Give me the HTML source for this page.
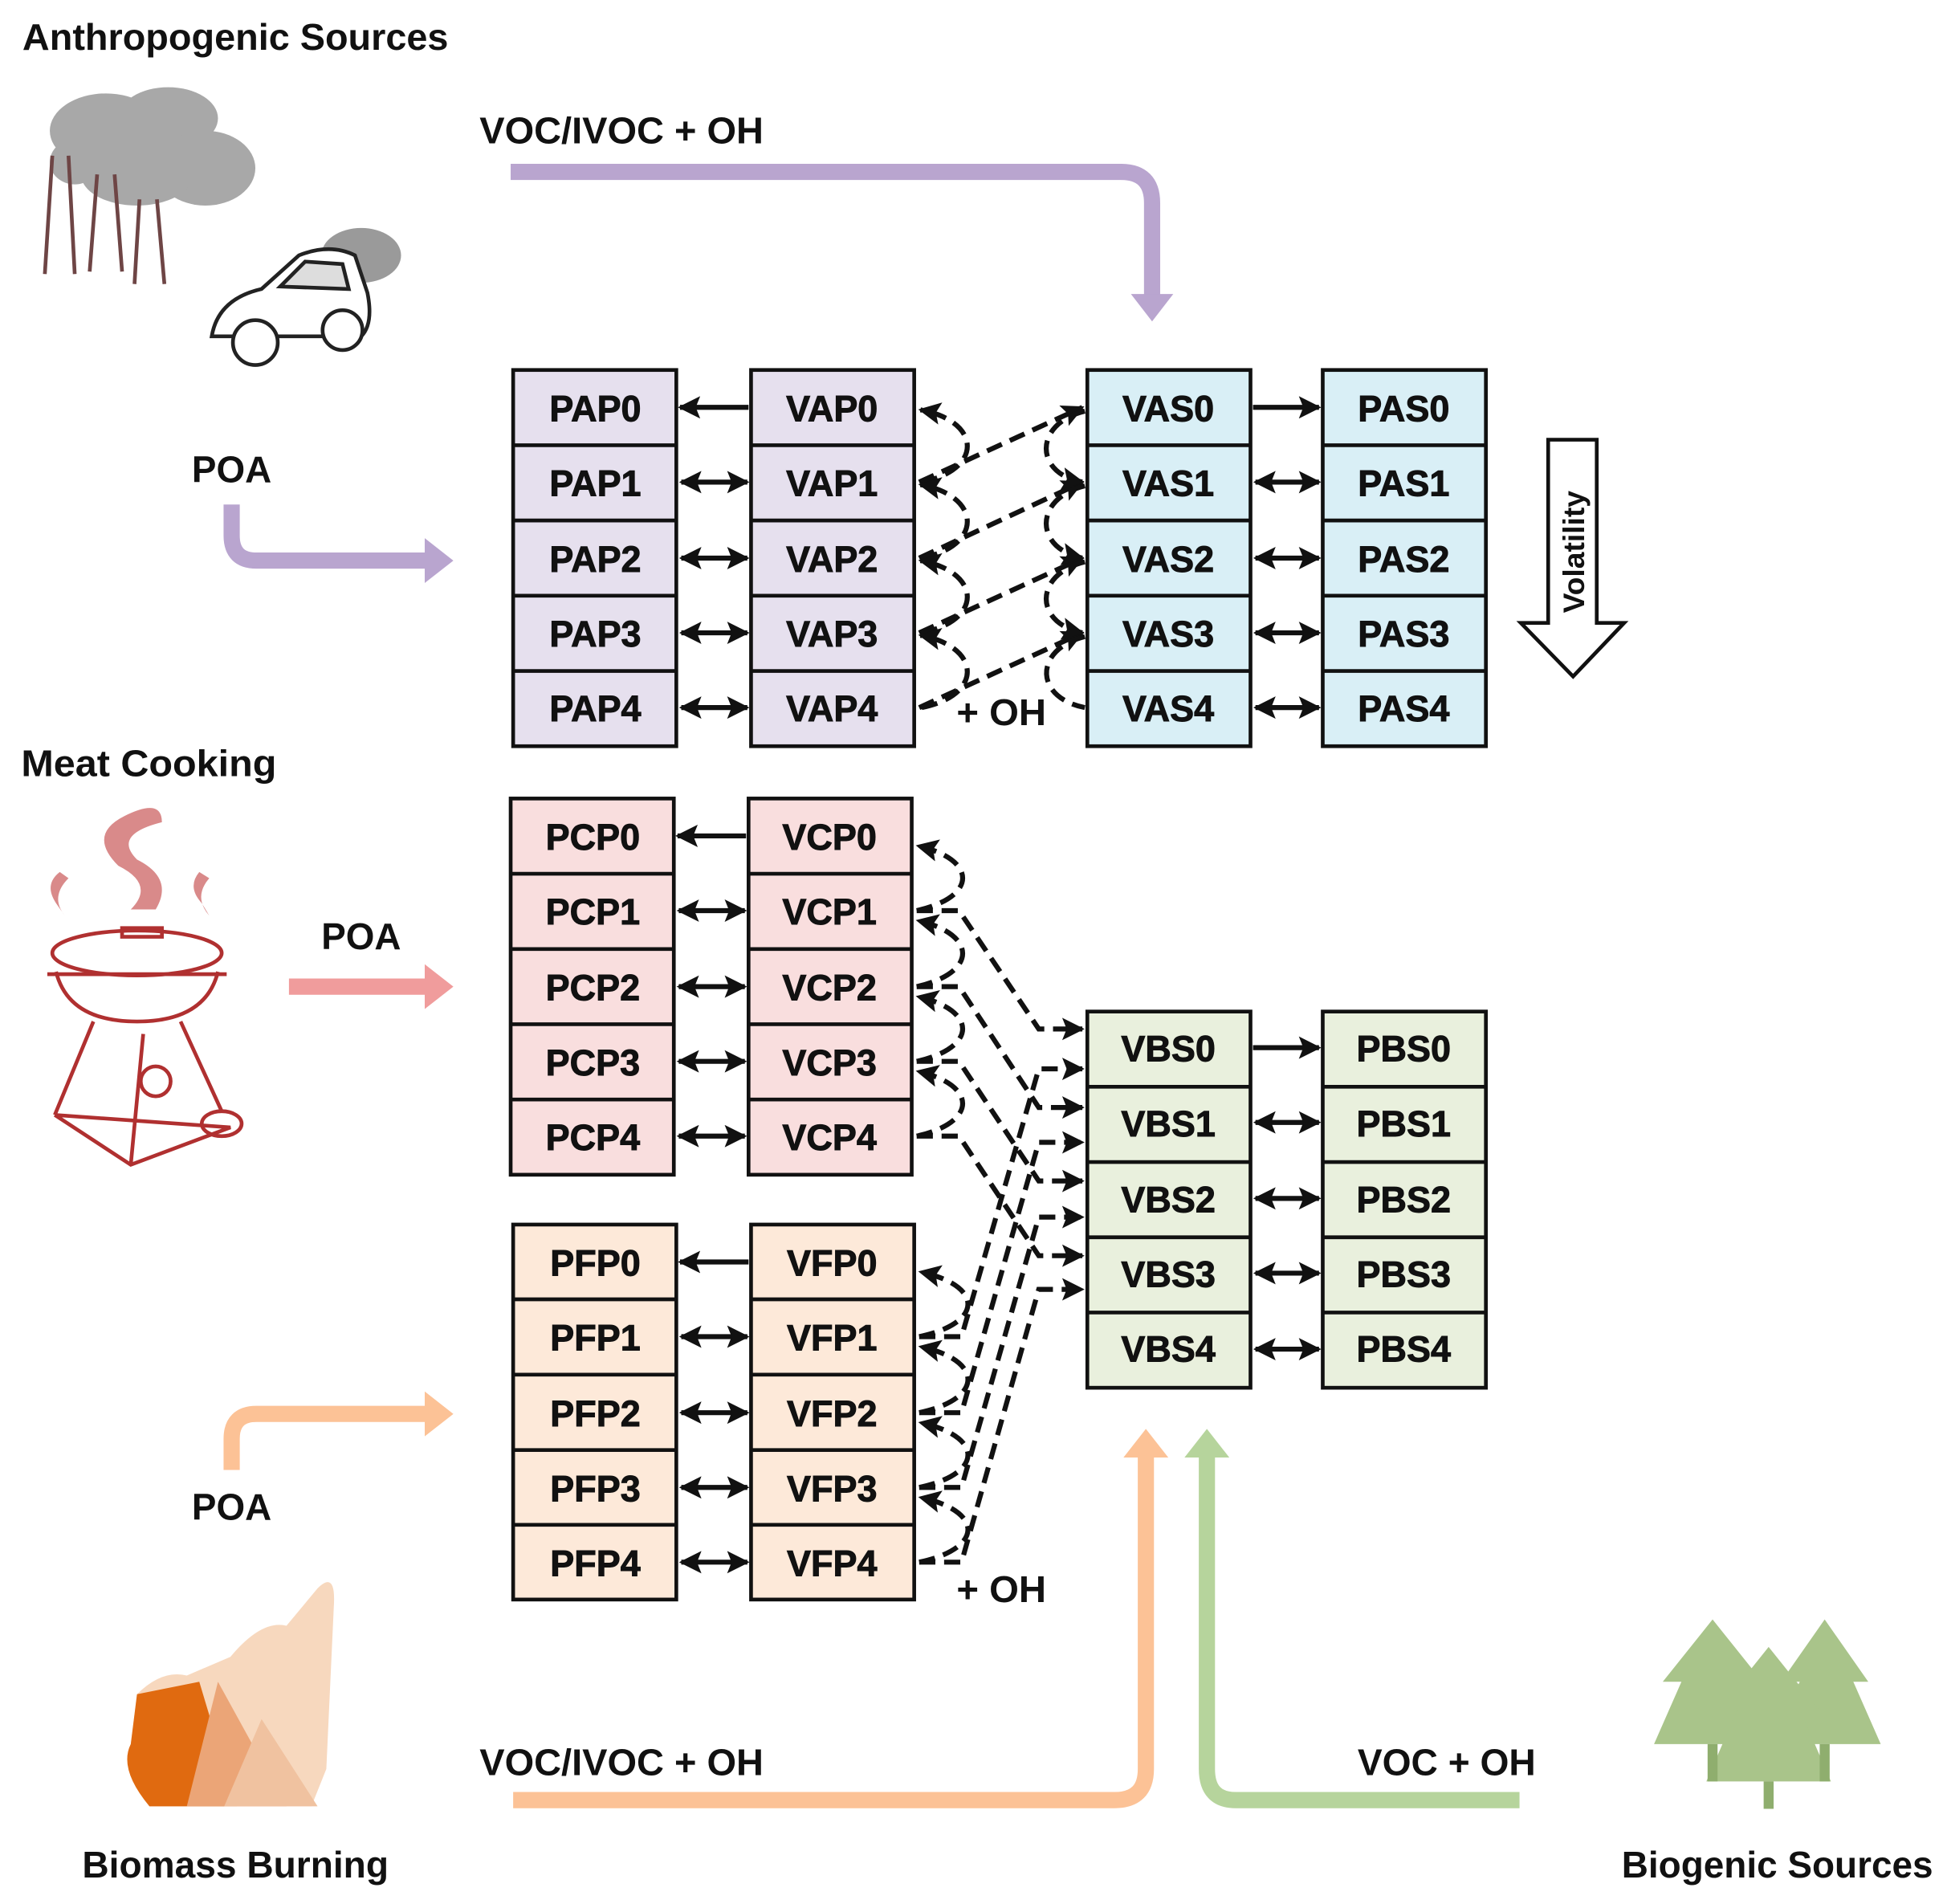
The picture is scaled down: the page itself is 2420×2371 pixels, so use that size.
<!DOCTYPE html>
<html><head><meta charset="utf-8"><style>
html,body{margin:0;padding:0;background:#fff;}
svg{display:block;}
text{font-family:"Liberation Sans",Arial,sans-serif;font-weight:bold;fill:#111;}
.bl{font-size:29px;text-anchor:middle;stroke:#111;stroke-width:0.6;}
.lab{font-size:30px;}
.bx{stroke:#111;stroke-width:3;}
.s{stroke:#111;stroke-width:4;fill:none;}
.d{stroke:#111;stroke-width:4;fill:none;stroke-dasharray:13 7;}
</style></head><body>
<svg width="2420" height="2371" viewBox="0 0 1560 1528.4" preserveAspectRatio="none" xmlns="http://www.w3.org/2000/svg">
<defs>
<marker id="a" viewBox="0 0 10 10" refX="9" refY="5" markerWidth="4.5" markerHeight="4.5" orient="auto-start-reverse" markerUnits="strokeWidth"><path d="M0,0 L10,5 L0,10 L2,5 z" fill="#111"/></marker>
</defs>

<text class="lab" x="18" y="40" textLength="342" lengthAdjust="spacingAndGlyphs">Anthropogenic Sources</text>
<text class="lab" x="385" y="115" textLength="228" lengthAdjust="spacingAndGlyphs">VOC/IVOC + OH</text>
<text class="lab" x="154" y="387" textLength="64" lengthAdjust="spacingAndGlyphs">POA</text>
<text class="lab" x="17" y="623" textLength="205" lengthAdjust="spacingAndGlyphs">Meat Cooking</text>
<text class="lab" x="258" y="762" textLength="64" lengthAdjust="spacingAndGlyphs">POA</text>
<text class="lab" x="154" y="1220" textLength="64" lengthAdjust="spacingAndGlyphs">POA</text>
<text class="lab" x="385" y="1425" textLength="228" lengthAdjust="spacingAndGlyphs">VOC/IVOC + OH</text>
<text class="lab" x="1090" y="1425" textLength="143" lengthAdjust="spacingAndGlyphs">VOC + OH</text>
<text class="lab" x="66" y="1507" textLength="246" lengthAdjust="spacingAndGlyphs">Biomass Burning</text>
<text class="lab" x="1302" y="1507" textLength="250" lengthAdjust="spacingAndGlyphs">Biogenic Sources</text>
<text class="lab" x="768" y="582" textLength="72" lengthAdjust="spacingAndGlyphs">+ OH</text>
<text class="lab" x="768" y="1286" textLength="72" lengthAdjust="spacingAndGlyphs">+ OH</text>

<g fill="none" stroke-width="13">
<path d="M410,138 H900 Q925,138 925,163 V240" stroke="#b9a5cf"/>
<path d="M186,405 V430 Q186,450 206,450 H345" stroke="#b9a5cf"/>
<path d="M232,792 H345" stroke="#f09c9c"/>
<path d="M186,1180 V1155 Q186,1135 206,1135 H345" stroke="#fcc296"/>
<path d="M412,1445 H895 Q920,1445 920,1420 V1168" stroke="#fcc296"/>
<path d="M1220,1445 H992 Q969,1445 969,1420 V1168" stroke="#b6d49c"/>
</g>
<polygon points="908,236 942,236 925,258" fill="#b9a5cf"/>
<polygon points="341,432 341,468 364,450" fill="#b9a5cf"/>
<polygon points="341,774 341,810 364,792" fill="#f09c9c"/>
<polygon points="341,1117 341,1153 364,1135" fill="#fcc296"/>
<polygon points="902,1170 938,1170 920,1147" fill="#fcc296"/>
<polygon points="951,1170 987,1170 969,1147" fill="#b6d49c"/>

<path d="M1243,353 H1282 V500 H1304 L1263,543 L1221,500 H1243 Z" fill="#fff" stroke="#111" stroke-width="3"/>
<text x="0" y="0" font-size="24" text-anchor="middle" transform="translate(1272,443) rotate(-90)">Volatility</text>

<g class="bx" fill="#e6e0ee">
<rect x="412" y="297" width="131" height="302"/><rect x="603" y="297" width="131" height="302"/>
</g>
<g class="bx" fill="#d9eff6">
<rect x="873" y="297" width="131" height="302"/><rect x="1062" y="297" width="131" height="302"/>
</g>
<g class="bx" fill="none">
<path d="M412,357.4H543M412,417.8H543M412,478.2H543M412,538.6H543"/>
<path d="M603,357.4H734M603,417.8H734M603,478.2H734M603,538.6H734"/>
<path d="M873,357.4H1004M873,417.8H1004M873,478.2H1004M873,538.6H1004"/>
<path d="M1062,357.4H1193M1062,417.8H1193M1062,478.2H1193M1062,538.6H1193"/>
</g>
<g class="bl">
<text x="478" y="338">PAP0</text><text x="478" y="398">PAP1</text><text x="478" y="459">PAP2</text><text x="478" y="519">PAP3</text><text x="478" y="579">PAP4</text>
<text x="668" y="338">VAP0</text><text x="668" y="398">VAP1</text><text x="668" y="459">VAP2</text><text x="668" y="519">VAP3</text><text x="668" y="579">VAP4</text>
<text x="938" y="338">VAS0</text><text x="938" y="398">VAS1</text><text x="938" y="459">VAS2</text><text x="938" y="519">VAS3</text><text x="938" y="579">VAS4</text>
<text x="1127" y="338">PAS0</text><text x="1127" y="398">PAS1</text><text x="1127" y="459">PAS2</text><text x="1127" y="519">PAS3</text><text x="1127" y="579">PAS4</text>
</g>

<g class="bx" fill="#f9dede">
<rect x="410" y="641" width="131" height="302"/><rect x="601" y="641" width="131" height="302"/>
</g>
<g class="bx" fill="none">
<path d="M410,701.4H541M410,761.8H541M410,822.2H541M410,882.6H541"/>
<path d="M601,701.4H732M601,761.8H732M601,822.2H732M601,882.6H732"/>
</g>
<g class="bl">
<text x="476" y="682">PCP0</text><text x="476" y="742">PCP1</text><text x="476" y="803">PCP2</text><text x="476" y="863">PCP3</text><text x="476" y="923">PCP4</text>
<text x="666" y="682">VCP0</text><text x="666" y="742">VCP1</text><text x="666" y="803">VCP2</text><text x="666" y="863">VCP3</text><text x="666" y="923">VCP4</text>
</g>

<g class="bx" fill="#fde9d9">
<rect x="412" y="983" width="131" height="301"/><rect x="603" y="983" width="131" height="301"/>
</g>
<g class="bx" fill="none">
<path d="M412,1043H543M412,1103.5H543M412,1164H543M412,1224H543"/>
<path d="M603,1043H734M603,1103.5H734M603,1164H734M603,1224H734"/>
</g>
<g class="bl">
<text x="478" y="1024">PFP0</text><text x="478" y="1084">PFP1</text><text x="478" y="1145">PFP2</text><text x="478" y="1205">PFP3</text><text x="478" y="1265">PFP4</text>
<text x="668" y="1024">VFP0</text><text x="668" y="1084">VFP1</text><text x="668" y="1145">VFP2</text><text x="668" y="1205">VFP3</text><text x="668" y="1265">VFP4</text>
</g>

<g class="bx" fill="#e9f0dd">
<rect x="873" y="812" width="131" height="302"/><rect x="1062" y="812" width="131" height="302"/>
</g>
<g class="bx" fill="none">
<path d="M873,872.4H1004M873,932.8H1004M873,993.2H1004M873,1053.6H1004"/>
<path d="M1062,872.4H1193M1062,932.8H1193M1062,993.2H1193M1062,1053.6H1193"/>
</g>
<g class="bl">
<text x="938" y="852">VBS0</text><text x="938" y="912">VBS1</text><text x="938" y="973">VBS2</text><text x="938" y="1033">VBS3</text><text x="938" y="1093">VBS4</text>
<text x="1127" y="852">PBS0</text><text x="1127" y="912">PBS1</text><text x="1127" y="973">PBS2</text><text x="1127" y="1033">PBS3</text><text x="1127" y="1093">PBS4</text>
</g>

<g class="s">
<path d="M601,327H546" marker-end="url(#a)"/>
<path d="M547,387H600" marker-start="url(#a)" marker-end="url(#a)"/>
<path d="M547,448H600" marker-start="url(#a)" marker-end="url(#a)"/>
<path d="M547,508H600" marker-start="url(#a)" marker-end="url(#a)"/>
<path d="M547,568H600" marker-start="url(#a)" marker-end="url(#a)"/>
<path d="M1006,327H1059" marker-end="url(#a)"/>
<path d="M1008,387H1059" marker-start="url(#a)" marker-end="url(#a)"/>
<path d="M1008,448H1059" marker-start="url(#a)" marker-end="url(#a)"/>
<path d="M1008,508H1059" marker-start="url(#a)" marker-end="url(#a)"/>
<path d="M1008,568H1059" marker-start="url(#a)" marker-end="url(#a)"/>
<path d="M599,671H544" marker-end="url(#a)"/>
<path d="M545,731H598" marker-start="url(#a)" marker-end="url(#a)"/>
<path d="M545,792H598" marker-start="url(#a)" marker-end="url(#a)"/>
<path d="M545,852H598" marker-start="url(#a)" marker-end="url(#a)"/>
<path d="M545,912H598" marker-start="url(#a)" marker-end="url(#a)"/>
<path d="M601,1013H546" marker-end="url(#a)"/>
<path d="M547,1073H600" marker-start="url(#a)" marker-end="url(#a)"/>
<path d="M547,1134H600" marker-start="url(#a)" marker-end="url(#a)"/>
<path d="M547,1194H600" marker-start="url(#a)" marker-end="url(#a)"/>
<path d="M547,1254H600" marker-start="url(#a)" marker-end="url(#a)"/>
<path d="M1006,841H1059" marker-end="url(#a)"/>
<path d="M1008,901H1059" marker-start="url(#a)" marker-end="url(#a)"/>
<path d="M1008,962H1059" marker-start="url(#a)" marker-end="url(#a)"/>
<path d="M1008,1022H1059" marker-start="url(#a)" marker-end="url(#a)"/>
<path d="M1008,1083H1059" marker-start="url(#a)" marker-end="url(#a)"/>
</g>

<g class="d">
<path d="M738,387 L869,327" marker-end="url(#a)"/>
<path d="M738,448 L869,387" marker-end="url(#a)"/>
<path d="M738,508 L869,448" marker-end="url(#a)"/>
<path d="M738,568 L869,508" marker-end="url(#a)"/>
<path d="M740,387 C790,377 788,338 739,329" marker-end="url(#a)"/>
<path d="M740,448 C790,438 788,398 739,389" marker-end="url(#a)"/>
<path d="M740,508 C790,498 788,459 739,450" marker-end="url(#a)"/>
<path d="M740,568 C790,558 788,519 739,510" marker-end="url(#a)"/>
<path d="M871,330 C830,340 830,380 869,387" marker-end="url(#a)"/>
<path d="M871,390 C830,400 830,440 869,448" marker-end="url(#a)"/>
<path d="M871,451 C830,461 830,500 869,508" marker-end="url(#a)"/>
<path d="M871,511 C830,521 830,560 871,568"/>
</g>

<g class="d">
<path d="M736,731 C785,720 785,690 737,679" marker-end="url(#a)"/>
<path d="M736,792 C785,781 785,750 737,739" marker-end="url(#a)"/>
<path d="M736,852 C785,841 785,811 737,800" marker-end="url(#a)"/>
<path d="M736,912 C785,901 785,871 737,860" marker-end="url(#a)"/>
<path d="M736,731 H770 L834,826 H869" marker-end="url(#a)"/>
<path d="M736,792 H770 L834,889 H869" marker-end="url(#a)"/>
<path d="M736,852 H770 L834,948 H869" marker-end="url(#a)"/>
<path d="M736,912 H770 L834,1008 H869" marker-end="url(#a)"/>
</g>

<g class="d">
<path d="M738,1073 C790,1062 790,1032 739,1021" marker-end="url(#a)"/>
<path d="M738,1134 C790,1123 790,1092 739,1081" marker-end="url(#a)"/>
<path d="M738,1194 C790,1183 790,1153 739,1142" marker-end="url(#a)"/>
<path d="M738,1254 C790,1243 790,1213 739,1202" marker-end="url(#a)"/>
<path d="M738,1073 H772 L834,858 H869" marker-end="url(#a)"/>
<path d="M738,1134 H772 L834,917 H869" marker-end="url(#a)"/>
<path d="M738,1194 H772 L834,977 H869" marker-end="url(#a)"/>
<path d="M738,1254 H772 L834,1035 H869" marker-end="url(#a)"/>
</g>

<g fill="#a8a8a8">
<ellipse cx="85" cy="105" rx="45" ry="30"/><ellipse cx="135" cy="95" rx="40" ry="25"/>
<ellipse cx="165" cy="135" rx="40" ry="30"/><ellipse cx="110" cy="140" rx="45" ry="25"/>
<ellipse cx="60" cy="130" rx="20" ry="18"/>
</g>
<g stroke="#6e4545" stroke-width="3" fill="none">
<path d="M42,125 L36,220 M55,125 L60,220"/>
<path d="M78,140 L72,218 M92,140 L98,218"/>
<path d="M112,160 L108,228 M126,160 L132,228"/>
</g>
<ellipse cx="290" cy="205" rx="32" ry="22" fill="#9a9a9a"/>
<g stroke="#222" stroke-width="3" fill="#fff">
<path d="M170,270 Q175,240 210,232 L240,205 Q265,195 285,205 L295,235 Q300,260 290,270 Z"/>
<circle cx="205" cy="275" r="18"/><circle cx="275" cy="265" r="16"/>
<path d="M225,230 L245,210 L275,212 L280,232 Z" fill="#ddd"/>
</g>

<g fill="#d98a8a">
<path d="M100,655 Q130,640 130,660 Q90,670 110,690 Q140,705 125,730 L105,730 Q125,710 95,695 Q70,670 100,655Z"/>
<path d="M48,700 Q35,710 45,725 L52,735 Q40,720 55,705Z"/>
<path d="M160,700 Q150,712 162,725 L168,735 Q155,720 168,705Z"/>
</g>
<g stroke="#b03030" stroke-width="3" fill="none">
<ellipse cx="110" cy="765" rx="68" ry="18"/>
<path d="M38,782 L182,782"/>
<path d="M45,780 Q55,820 110,820 Q165,820 175,780"/>
<path d="M98,745 H130 V752 H98Z"/>
<path d="M75,820 L44,895 M145,820 L178,892 M115,830 L105,935"/>
<path d="M44,895 L105,935 L185,905 L44,895"/>
<circle cx="125" cy="868" r="12"/><ellipse cx="178" cy="902" rx="16" ry="10"/>
</g>

<path d="M110,1360 Q130,1340 150,1345 L185,1330 Q210,1300 230,1305 L255,1275 Q270,1260 268,1290 L262,1420 L250,1450 L120,1450 Q95,1420 105,1400 Z" fill="#f7d8be"/>
<path d="M110,1360 L160,1350 L190,1450 L120,1450 Q95,1420 105,1400 Z" fill="#e06a10"/>
<path d="M175,1350 L150,1450 L230,1450 Z" fill="#eba577"/>
<path d="M210,1380 L180,1450 L255,1450 Z" fill="#f0c2a0"/>

<g fill="#a9c48a">
<polygon points="1375,1300 1335,1350 1350,1350 1328,1400 1422,1400 1400,1350 1415,1350"/>
<polygon points="1465,1300 1430,1350 1445,1350 1420,1400 1510,1400 1488,1350 1500,1350"/>
<polygon points="1420,1322 1380,1372 1395,1372 1370,1430 1470,1430 1445,1372 1460,1372"/>
</g>
<g fill="#8fae6e"><rect x="1371" y="1400" width="8" height="30"/><rect x="1461" y="1400" width="8" height="30"/><rect x="1416" y="1430" width="8" height="22"/></g>
</svg>
</body></html>
